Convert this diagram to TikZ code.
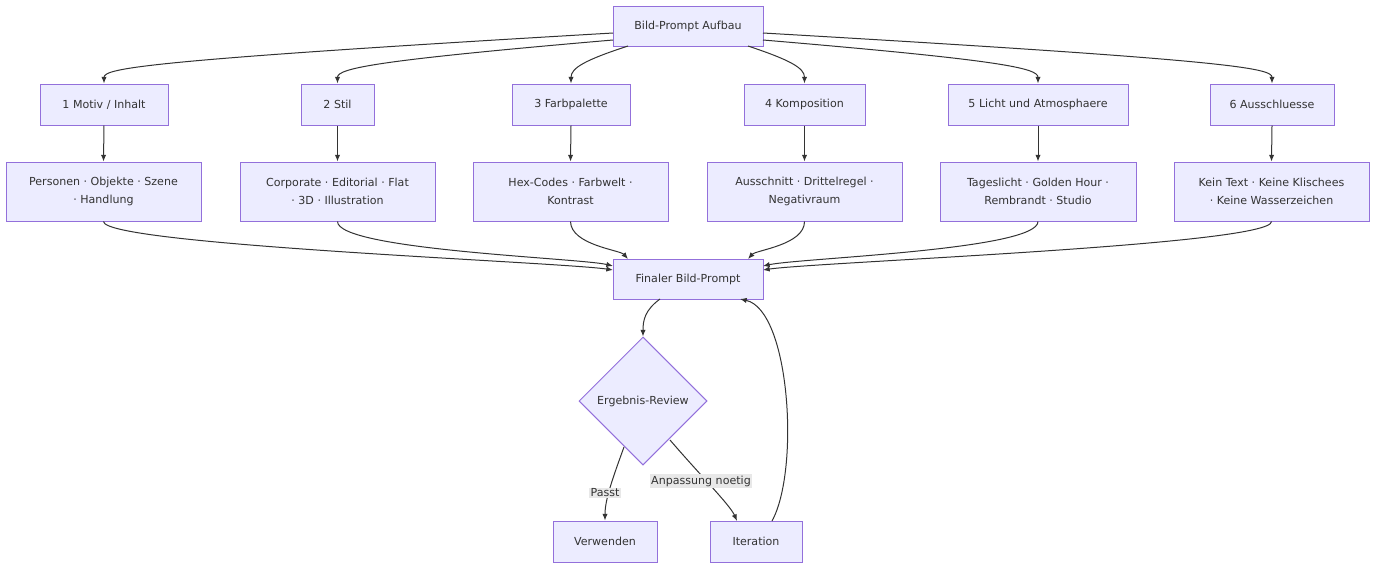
\documentclass[tikz,border=0pt]{standalone}
\usepackage{fontspec}
\setmainfont{DejaVu Sans}
\usetikzlibrary{shapes.geometric,arrows.meta,calc}
\definecolor{bfill}{HTML}{ECECFF}
\definecolor{bdraw}{HTML}{9370DB}
\definecolor{edge}{HTML}{333333}
\definecolor{lbg}{HTML}{E8E8E8}
\begin{document}
\begin{tikzpicture}[x=0.75pt,y=-0.75pt,
  box/.style={draw=bdraw,fill=bfill,line width=0.75pt,inner sep=0pt,font=\fontsize{8.3}{13.5}\selectfont,text=edge,align=center},
  dia/.style={diamond,draw=bdraw,fill=bfill,line width=0.75pt,inner sep=0pt,minimum width=96pt,minimum height=96pt,font=\fontsize{8.3}{11}\selectfont,text=edge},
  e/.style={draw=edge,line width=0.75pt,-{Latex[length=5pt,width=4pt]}},
  lab/.style={fill=lbg,inner sep=1pt,font=\fontsize{8.3}{10}\selectfont,text=edge}]
\useasboundingbox (0,0) rectangle (1384,572);
\newcommand{\bx}[5]{\node[box,minimum width=#4*0.75pt,minimum height=#5*0.75pt] (#1) at #2 {#3};}
\bx{top}{(688,26)}{Bild-Prompt Aufbau}{150}{40}
\bx{a1}{(104,104.5)}{1 Motiv / Inhalt}{128}{41}
\bx{a2}{(337.5,104.5)}{2 Stil}{73}{41}
\bx{a3}{(571,104.5)}{3 Farbpalette}{118}{41}
\bx{a4}{(804.5,104.5)}{4 Komposition}{121}{41}
\bx{a5}{(1038,104.5)}{5 Licht und Atmosphaere}{180}{41}
\bx{a6}{(1272,104.5)}{6 Ausschluesse}{124}{41}
\bx{b1}{(103.5,191.5)}{Personen · Objekte · Szene\\· Handlung}{195}{59}
\bx{b2}{(337.5,191.5)}{Corporate · Editorial · Flat\\· 3D · Illustration}{195}{59}
\bx{b3}{(570.5,191.5)}{Hex-Codes · Farbwelt ·\\Kontrast}{195}{59}
\bx{b4}{(804.5,191.5)}{Ausschnitt · Drittelregel ·\\Negativraum}{195}{59}
\bx{b5}{(1038,191.5)}{Tageslicht · Golden Hour ·\\Rembrandt · Studio}{196}{59}
\bx{b6}{(1271.5,191.5)}{Kein Text · Keine Klischees\\· Keine Wasserzeichen}{195}{59}
\bx{fin}{(688,279)}{Finaler Bild-Prompt}{150}{40}
\node[dia] (rev) at (643,401) {Ergebnis-Review};
\bx{use}{(605,541.5)}{Verwenden}{104}{41}
\bx{it}{(756,541.5)}{Iteration}{92}{41}

\coordinate (t1) at (613,33);
\coordinate (t2) at (613,40);
\coordinate (t3) at (628,46);
\coordinate (t4) at (748,46);
\coordinate (t5) at (763,40);
\coordinate (t6) at (763,33);
\draw[e] (t1) .. controls (150,60) and (104,68) .. (a1.north);
\draw[e] (t2) .. controls (380,60) and (337.5,68) .. (a2.north);
\draw[e] (t3) .. controls (585,60) and (571,68) .. (a3.north);
\draw[e] (t4) .. controls (790,60) and (804.5,68) .. (a4.north);
\draw[e] (t5) .. controls (1000,60) and (1038,68) .. (a5.north);
\draw[e] (t6) .. controls (1230,60) and (1272,68) .. (a6.north);
\foreach \i in {1,...,6}{\draw[e] (a\i.south) -- (b\i.north);}
\draw[e] (b1.south) .. controls (104,245) and (560,262) .. (613,270);
\draw[e] (b2.south) .. controls (337.5,250) and (580,258) .. (613,266);
\draw[e] (b3.south) .. controls (571,245) and (620,250) .. (628,259);
\draw[e] (b4.south) .. controls (804.5,245) and (756,250) .. (748,259);
\draw[e] (b5.south) .. controls (1038,250) and (800,258) .. (763,266);
\draw[e] (b6.south) .. controls (1272,245) and (816,262) .. (763,270);
\draw[e] (660,299) .. controls (645,310) and (643,320) .. (rev.north);
\draw[e] (624,447) .. controls (612,480) and (605,500) .. (use.north);
\draw[e] (670,440) .. controls (700,475) and (730,505) .. (737,521);
\draw[e] (772,521) .. controls (800,470) and (790,310) .. (740,299);
\node[lab] at (605,493) {Passt};
\node[lab] at (701,481) {Anpassung noetig};
\end{tikzpicture}
\end{document}
